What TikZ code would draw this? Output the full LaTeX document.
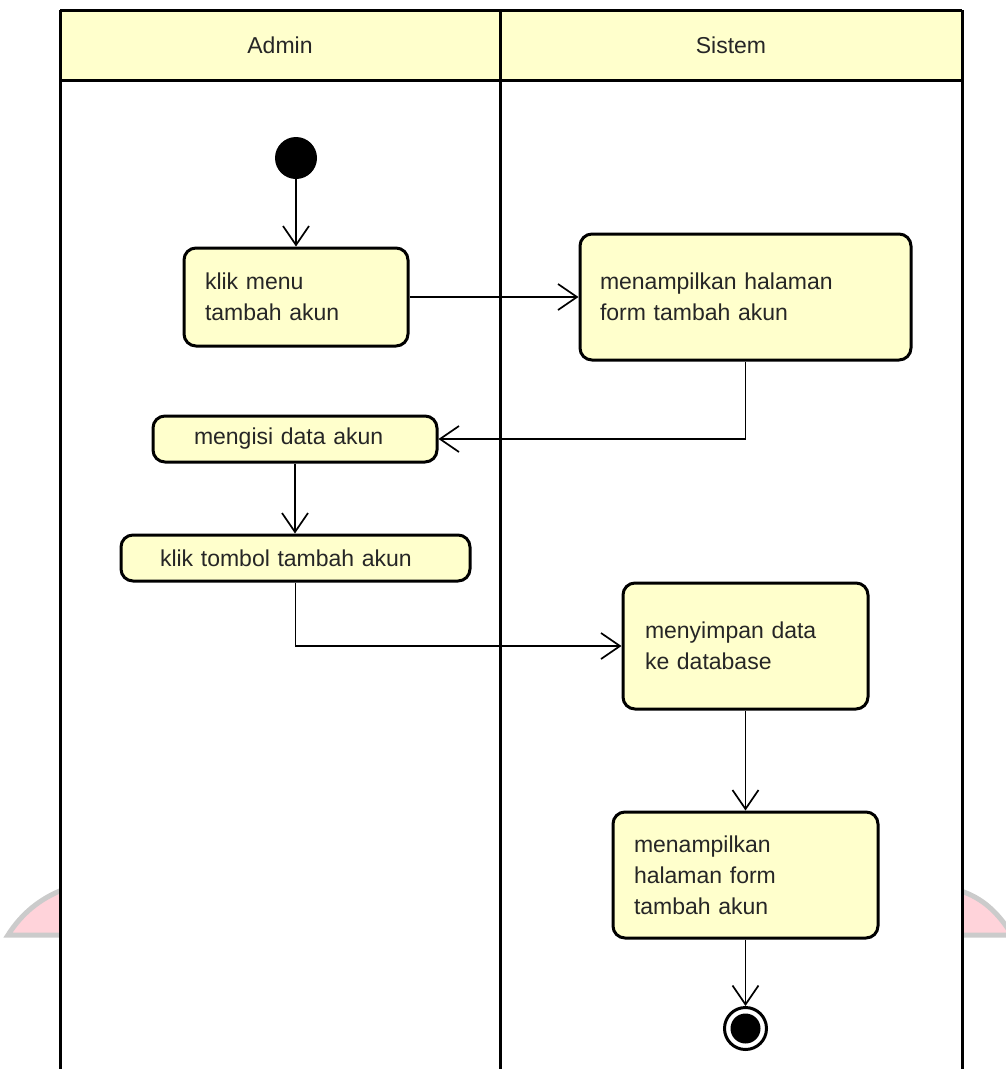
\documentclass[tikz,border=0pt]{standalone}
\usepackage{fontspec}
\setmainfont{Liberation Sans}
\usetikzlibrary{arrows.meta}
\definecolor{actfill}{HTML}{FFFFCC}
\definecolor{wmfill}{HTML}{FFD3DA}
\definecolor{wmline}{HTML}{CBCBCB}
\begin{document}
\begin{tikzpicture}[x=1pt,y=-1pt,
  txt/.style={font=\fontsize{23}{31}\selectfont, text=black!85},
  act/.style n args={3}{draw, line width=3pt, rounded corners=12pt, fill=actfill,
     align=left, txt, minimum height=#2, text width=#1, inner xsep=#3, inner ysep=0pt},
  arr/.style={line width=1.7pt, -{Straight Barb[length=19pt,width=26pt,line width=1.7pt]}},
  lane/.style={line width=3pt}]
\useasboundingbox (0,0) rectangle (1006,1069);
% watermark fragments
\begin{scope}
  \clip (0,880) rectangle (60,950);
  \path[fill=wmfill, draw=wmline, line width=5pt]
    (8,935) .. controls (22,913) and (40,899) .. (62,890) -- (62,935) -- cycle;
\end{scope}
\begin{scope}
  \clip (963,880) rectangle (1006,950);
  \path[fill=wmfill, draw=wmline, line width=5pt]
    (961,891) .. controls (982,898) and (998,912) .. (1012,935) -- (961,935) -- cycle;
\end{scope}
% swimlanes
\fill[actfill] (60,10) rectangle (962,80);
\draw[lane] (60,10) -- (962,10);
\draw[lane] (60,80) -- (962,80);
\draw[lane] (60,10) -- (60,1069);
\draw[lane] (500,10) -- (500,1069);
\draw[lane] (962,10) -- (962,1069);
\node[txt] (hadmin) at (280,45) {Admin};
\node[txt] (hsistem) at (731,45) {Sistem};
% nodes
\node[circle, fill=black, minimum size=42pt, inner sep=0pt] (start) at (296,158) {};
\node[act={182pt}{98pt}{21pt}] (klik) at (296,297) {klik menu\\tambah akun};
\node[act={291pt}{126pt}{20pt}] (form1) at (745.5,297) {menampilkan halaman\\form tambah akun};
\node[act={202pt}{46pt}{41pt}] (isi) at (295,439) {mengisi data akun};
\node[act={271pt}{46pt}{39pt}] (tombol) at (295.5,558) {klik tombol tambah akun};
\node[act={201pt}{126pt}{22pt}] (simpan) at (745.5,646) {menyimpan data\\ke database};
\node[act={223pt}{126pt}{21pt}] (form2) at (745.5,875) {menampilkan\\halaman form\\tambah akun};
\node[circle, draw=black, line width=3pt, fill=white, minimum size=42pt, inner sep=0pt] (end) at (745.5,1028.5) {};
\fill (end.center) circle (15);
% connectors
\draw[arr] (start) -- (klik);
\draw[arr] (klik) -- (form1);
\draw[arr] (form1.south) |- (isi.east);
\draw[arr] (isi.south) -- (isi.south |- tombol.north);
\draw[arr] (tombol.south) |- (simpan.west);
\draw[arr] (simpan) -- (form2);
\draw[arr] (form2) -- (end);
\end{tikzpicture}
\end{document}
